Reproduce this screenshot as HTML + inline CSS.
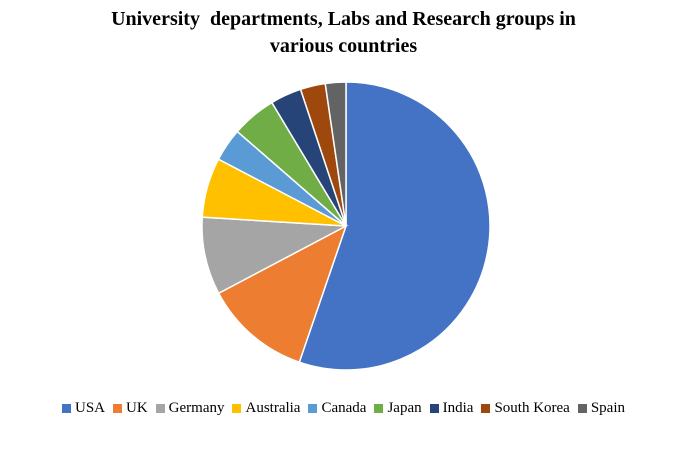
<!DOCTYPE html>
<html><head><meta charset="utf-8"><style>
body{margin:0;width:687px;height:460px;background:#fff;overflow:hidden;font-family:"Liberation Serif",serif;}
#title{position:absolute;left:0;width:687px;top:6px;text-align:center;font-weight:bold;font-size:20px;line-height:27px;color:#000;}
#legend{position:absolute;left:0;width:687px;top:400px;display:flex;justify-content:center;font-size:15px;color:#000;}
.li{display:flex;align-items:center;margin:0 4px;}
.sw{width:9px;height:9px;margin-right:4px;}
</style></head><body>
<div id="title">University &nbsp;departments, Labs and Research groups in<br>various countries</div>
<svg id="pie" width="687" height="460" style="position:absolute;left:0;top:0"></svg>
<div id="legend"></div>
<script>
const categories=["USA","UK","Germany","Australia","Canada","Japan","India","South Korea","Spain"];
const values=[55.2,12,8.7,6.7,3.7,5,3.5,2.8,2.3];
const colors=["#4472C4","#ED7D31","#A5A5A5","#FFC000","#5B9BD5","#70AD47","#264478","#9E480E","#636363"];
const cx=346,cy=226,r=144;
const svg=document.getElementById('pie');
const total=values.reduce((a,b)=>a+b,0);
let a0=0;
values.forEach((v,i)=>{
  const a1=a0+v/total*2*Math.PI;
  const x0=cx+r*Math.sin(a0),y0=cy-r*Math.cos(a0),x1=cx+r*Math.sin(a1),y1=cy-r*Math.cos(a1);
  const p=document.createElementNS('http://www.w3.org/2000/svg','path');
  p.setAttribute('d',`M${cx},${cy}L${x0},${y0}A${r},${r} 0 ${a1-a0>Math.PI?1:0} 1 ${x1},${y1}Z`);
  p.setAttribute('fill',colors[i]);p.setAttribute('stroke','#fff');p.setAttribute('stroke-width','1.5');
  
  
  svg.appendChild(p);a0=a1;
});
const lg=document.getElementById('legend');
categories.forEach((c,i)=>{
  const d=document.createElement('div');d.className='li';
  
  
  d.innerHTML=`<span class="sw" style="background:${colors[i]}"></span>${c}`;
  lg.appendChild(d);
});
</script>
</body></html>
